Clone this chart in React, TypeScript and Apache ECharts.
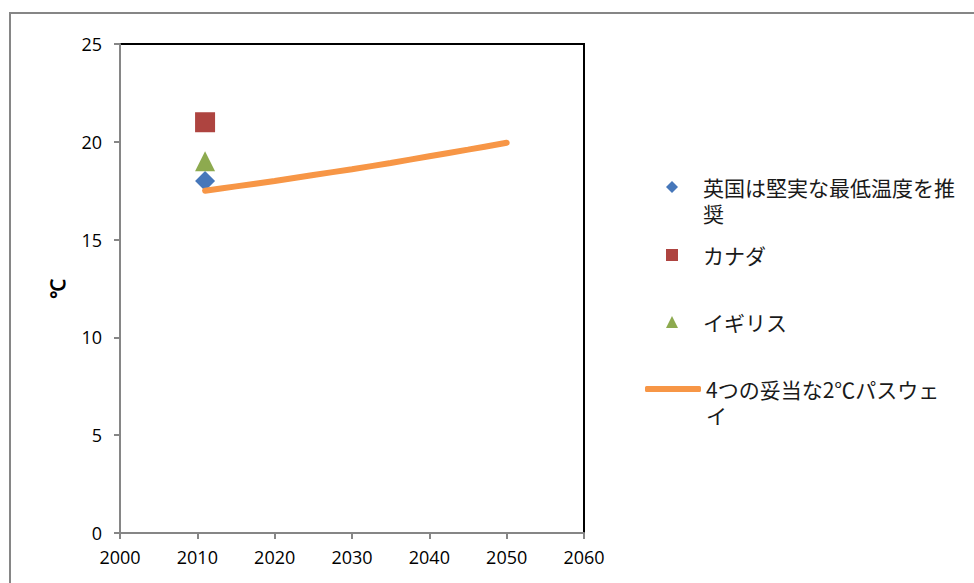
import React, { useEffect, useRef } from "react";
import * as echarts from "echarts";

const xTicks = [2000, 2010, 2020, 2030, 2040, 2050, 2060];
const yTicks = [0, 5, 10, 15, 20, 25];

const seriesNames = [
  "英国は堅実な最低温度を推奨",
  "カナダ",
  "イギリス",
  "4つの妥当な2℃パスウェイ",
];
// wrapped legend labels (leading blank line keeps the first line level with the marker)
const legendLabels = [
  " \n英国は堅実な最低温度を推\n奨",
  "カナダ",
  "イギリス",
  " \n4つの妥当な2℃パスウェ\nイ",
];

const ukRecommendation = [[2011, 18]];
const canada = [[2011, 21]];
const britain = [[2011, 19]];

const pathwayYears = [2011, 2015, 2020, 2025, 2030, 2035, 2040, 2045, 2050];
const pathwayValues = [17.5, 17.72, 18.0, 18.3, 18.6, 18.92, 19.26, 19.6, 19.95];

const axisFont = "'Open Sans', 'Liberation Sans', sans-serif";
const jpFont = "'Noto Sans CJK JP', sans-serif";

export default function App() {
  const ref = useRef<HTMLDivElement>(null);
  useEffect(() => {
    if (!ref.current) return;
    const chart = echarts.init(ref.current, undefined, { renderer: "svg" });
    const labelMap: Record<string, string> = {};
    seriesNames.forEach((n, i) => (labelMap[n] = legendLabels[i]));
    const lineH = 26;
    const legendCommon = {
      orient: "vertical" as const,
      padding: 0,
      selectedMode: false,
      formatter: (n: string) => labelMap[n] || n,
      textStyle: {
        fontFamily: jpFont,
        fontSize: 21,
        lineHeight: lineH,
        color: "#1a1a1a",
      },
    };
    chart.setOption({
      animation: false,
      backgroundColor: "#ffffff",
      grid: {
        left: 120,
        top: 44,
        right: 390,
        bottom: 50,
        show: true,
        borderColor: "#000000",
        borderWidth: 2,
        backgroundColor: "transparent",
      },
      xAxis: {
        type: "value",
        min: xTicks[0],
        max: xTicks[xTicks.length - 1],
        interval: 10,
        axisLine: { show: true, lineStyle: { color: "#868686", width: 2 } },
        axisTick: { show: true, length: 6, lineStyle: { color: "#868686", width: 2 } },
        splitLine: { show: false },
        axisLabel: {
          margin: 15,
          fontFamily: axisFont,
          fontSize: 18,
          color: "#000",
          formatter: (v: number) => String(v),
        },
      },
      yAxis: {
        type: "value",
        min: yTicks[0],
        max: yTicks[yTicks.length - 1],
        interval: 5,
        name: "℃",
        nameLocation: "middle",
        nameGap: 52,
        nameTextStyle: {
          fontFamily: "'Liberation Sans', sans-serif",
          fontSize: 20,
          fontWeight: "bold",
          color: "#000",
        },
        axisLine: { show: true, lineStyle: { color: "#868686", width: 2 } },
        axisTick: { show: true, length: 6, lineStyle: { color: "#868686", width: 2 } },
        splitLine: { show: false },
        axisLabel: {
          margin: 18,
          fontFamily: axisFont,
          fontSize: 18,
          color: "#000",
        },
      },
      legend: [
        {
          ...legendCommon,
          left: 666,
          top: 148,
          itemWidth: 12,
          itemHeight: 12,
          data: [seriesNames[0]],
          textStyle: { ...legendCommon.textStyle, padding: [0, 0, 0, 20] },
        },
        {
          ...legendCommon,
          left: 666,
          top: 242,
          itemWidth: 12,
          itemHeight: 12,
          data: [seriesNames[1]],
          textStyle: { ...legendCommon.textStyle, padding: [0, 0, 0, 20] },
        },
        {
          ...legendCommon,
          left: 666,
          top: 309,
          itemWidth: 12,
          itemHeight: 12,
          data: [seriesNames[2]],
          textStyle: { ...legendCommon.textStyle, padding: [0, 0, 0, 20] },
        },
        {
          ...legendCommon,
          left: 645,
          top: 350,
          itemWidth: 56,
          itemHeight: 6,
          data: [{ name: seriesNames[3], icon: "roundRect" }],
          textStyle: { ...legendCommon.textStyle, padding: [0, 0, 0, 0] },
        },
      ],
      graphic: [
        {
          type: "rect",
          shape: { x: 10, y: 13, width: 1100, height: 700 },
          style: { fill: "none", stroke: "#868686", lineWidth: 2 },
          silent: true,
        },
      ],
      series: [
        {
          name: seriesNames[0],
          type: "scatter",
          symbol: "diamond",
          symbolSize: 20,
          itemStyle: { color: "#4677BA", opacity: 1 },
          data: ukRecommendation,
        },
        {
          name: seriesNames[1],
          type: "scatter",
          symbol: "rect",
          symbolSize: 20,
          itemStyle: { color: "#AE4440", opacity: 1 },
          data: canada,
        },
        {
          name: seriesNames[2],
          type: "scatter",
          symbol: "triangle",
          symbolSize: 20,
          itemStyle: { color: "#8DAA4F", opacity: 1 },
          data: britain,
        },
        {
          name: seriesNames[3],
          type: "line",
          smooth: 0.3,
          symbol: "none",
          showSymbol: false,
          lineStyle: { color: "#F79646", width: 6, cap: "round" },
          itemStyle: { color: "#F79646" },
          data: pathwayYears.map((y, i) => [y, pathwayValues[i]]),
        },
      ],
    });
    return () => chart.dispose();
  }, []);
  return (
    <div
      ref={ref}
      style={{ position: "fixed", left: 0, top: 0, width: 974, height: 583 }}
    />
  );
}
